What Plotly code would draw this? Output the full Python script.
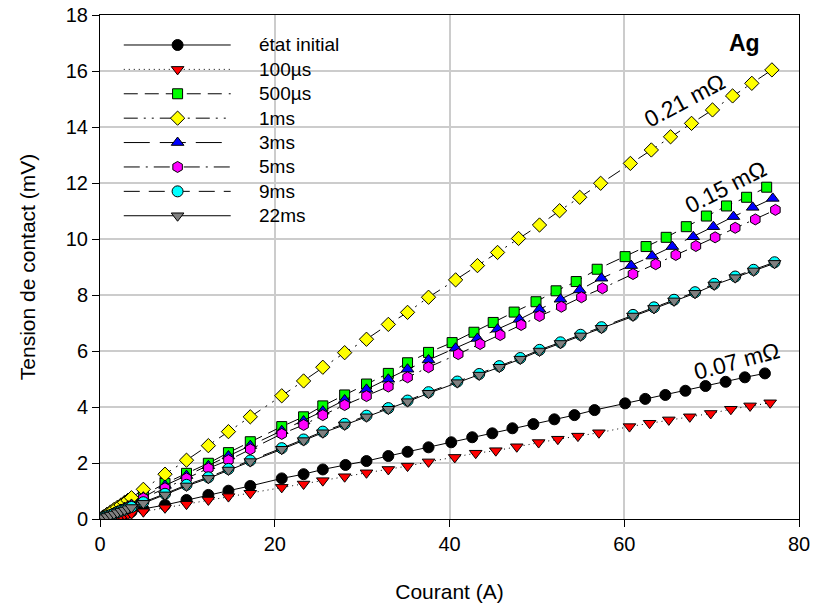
import plotly.graph_objects as go

# ---------------- data ----------------
low_I = [0, 0.4, 0.8, 1.2, 1.6, 2.0, 2.4, 2.8, 3.2, 3.6]

I_init = low_I + [4.96, 7.44, 9.9, 12.4, 14.7, 17.2, 20.8, 23.3, 25.5, 28.1,
                  30.5, 33.0, 35.2, 37.6, 40.2, 42.6, 44.9, 47.2, 49.6, 52.0,
                  54.3, 56.6, 60.1, 62.4, 64.7, 67.0, 69.3, 71.6, 73.8, 76.1]
V_init = [0, 0.03, 0.06, 0.08, 0.11, 0.14, 0.17, 0.20, 0.23, 0.26,
          0.36, 0.50, 0.68, 0.86, 1.01, 1.18, 1.45, 1.60, 1.77, 1.93,
          2.07, 2.25, 2.40, 2.56, 2.74, 2.92, 3.06, 3.24, 3.39, 3.56,
          3.71, 3.89, 4.13, 4.29, 4.43, 4.58, 4.75, 4.90, 5.06, 5.20]

I_100us = low_I + [4.96, 7.44, 9.9, 12.4, 14.7, 17.2, 20.8, 23.3, 25.5, 28.0,
                   30.5, 33.0, 35.2, 37.6, 40.6, 43.0, 45.3, 47.7, 50.2, 52.4,
                   54.7, 57.1, 60.6, 62.9, 65.1, 67.5, 69.9, 72.2, 74.4, 76.7]
V_100us = [0, 0.02, 0.04, 0.06, 0.08, 0.10, 0.12, 0.15, 0.17, 0.19,
           0.26, 0.40, 0.53, 0.68, 0.80, 0.92, 1.13, 1.25, 1.37, 1.51,
           1.65, 1.77, 1.89, 2.04, 2.20, 2.35, 2.44, 2.58, 2.73, 2.85,
           2.96, 3.08, 3.30, 3.42, 3.54, 3.65, 3.77, 3.92, 4.04, 4.15]

I_500us = low_I + [4.96, 7.44, 9.9, 12.4, 14.7, 17.2, 20.8, 23.3, 25.5, 28.0,
                   30.5, 33.0, 35.2, 37.6, 40.3, 42.8, 45.0, 47.4, 49.9, 52.2,
                   54.5, 56.9, 60.1, 62.5, 64.8, 67.1, 69.4, 71.7, 74.0, 76.3]
V_500us = [0, 0.06, 0.12, 0.18, 0.24, 0.31, 0.37, 0.43, 0.50, 0.56,
           0.85, 1.27, 1.63, 1.99, 2.37, 2.76, 3.30, 3.65, 4.04, 4.43,
           4.82, 5.20, 5.58, 5.95, 6.30, 6.67, 7.02, 7.39, 7.76, 8.15,
           8.48, 8.92, 9.37, 9.73, 10.06, 10.44, 10.82, 11.18, 11.49, 11.85]

I_1ms = low_I + [4.96, 7.44, 9.9, 12.4, 14.7, 17.2, 20.8, 23.3, 25.5, 28.0,
                 30.5, 33.0, 35.2, 37.6, 40.7, 43.2, 45.5, 47.9, 50.3, 52.6,
                 54.9, 57.3, 60.7, 63.1, 65.3, 67.7, 70.1, 72.4, 74.6, 76.9]
V_1ms = [0, 0.08, 0.17, 0.25, 0.34, 0.42, 0.50, 0.59, 0.67, 0.76,
         1.06, 1.60, 2.10, 2.62, 3.12, 3.65, 4.40, 4.93, 5.42, 5.94,
         6.42, 6.95, 7.38, 7.92, 8.54, 9.05, 9.52, 10.02, 10.50, 11.01,
         11.49, 11.99, 12.70, 13.18, 13.65, 14.13, 14.61, 15.11, 15.56, 16.04]

I_3ms = low_I + [4.96, 7.44, 9.9, 12.4, 14.7, 17.2, 20.8, 23.3, 25.5, 28.0,
                 30.5, 33.0, 35.2, 37.6, 40.7, 43.2, 45.5, 48.0, 50.3, 52.7,
                 54.9, 57.4, 60.8, 63.2, 65.5, 67.9, 70.2, 72.5, 74.7, 77.0]
V_3ms = [0, 0.05, 0.11, 0.16, 0.22, 0.28, 0.34, 0.40, 0.46, 0.52,
         0.78, 1.20, 1.55, 1.90, 2.25, 2.62, 3.15, 3.50, 3.85, 4.25,
         4.63, 4.99, 5.35, 5.68, 6.10, 6.45, 6.78, 7.13, 7.49, 7.85,
         8.18, 8.60, 9.05, 9.39, 9.73, 10.08, 10.44, 10.80, 11.13, 11.45]

I_5ms = low_I + [4.96, 7.44, 9.9, 12.4, 14.7, 17.2, 20.8, 23.3, 25.5, 28.0,
                 30.5, 33.0, 35.2, 37.6, 41.0, 43.5, 45.8, 48.2, 50.3, 52.8,
                 55.1, 57.5, 61.0, 63.6, 65.9, 68.2, 70.4, 72.7, 75.0, 77.3]
V_5ms = [0, 0.05, 0.10, 0.15, 0.20, 0.26, 0.31, 0.37, 0.43, 0.48,
         0.74, 1.10, 1.45, 1.81, 2.10, 2.49, 3.04, 3.36, 3.71, 4.07,
         4.39, 4.73, 5.06, 5.42, 5.89, 6.25, 6.57, 6.93, 7.25, 7.58,
         7.92, 8.24, 8.75, 9.10, 9.43, 9.75, 10.06, 10.40, 10.70, 11.04]

I_9ms = low_I + [4.96, 7.44, 9.9, 12.4, 14.7, 17.2, 20.8, 23.3, 25.5, 28.0,
                 30.5, 33.0, 35.2, 37.6, 40.9, 43.4, 45.7, 48.1, 50.3, 52.7,
                 55.0, 57.4, 61.0, 63.4, 65.7, 68.1, 70.3, 72.7, 74.8, 77.2]
V_9ms = [0, 0.05, 0.10, 0.14, 0.19, 0.24, 0.29, 0.33, 0.38, 0.43,
         0.60, 0.90, 1.22, 1.49, 1.79, 2.09, 2.53, 2.84, 3.12, 3.40,
         3.69, 3.96, 4.23, 4.53, 4.91, 5.18, 5.46, 5.75, 6.04, 6.31,
         6.58, 6.85, 7.29, 7.56, 7.83, 8.10, 8.40, 8.66, 8.90, 9.17]

I_22ms = low_I + [4.96, 7.44, 9.9, 12.4, 14.7, 17.2, 20.8, 23.3, 25.5, 28.0,
                  30.5, 33.0, 35.2, 37.6, 40.9, 43.4, 45.7, 48.1, 50.3, 52.7,
                  55.0, 57.4, 61.0, 63.4, 65.7, 68.1, 70.3, 72.7, 74.8, 77.2]
V_22ms = [0, 0.05, 0.09, 0.14, 0.18, 0.23, 0.28, 0.32, 0.37, 0.41,
          0.56, 0.86, 1.18, 1.45, 1.75, 2.05, 2.49, 2.80, 3.08, 3.36,
          3.65, 3.92, 4.19, 4.49, 4.87, 5.14, 5.42, 5.71, 6.00, 6.27,
          6.54, 6.81, 7.25, 7.52, 7.79, 8.06, 8.36, 8.62, 8.86, 9.13]

series_names = ["état initial", "100µs", "500µs", "1ms", "3ms", "5ms", "9ms", "22ms"]
series_I = [I_init, I_100us, I_500us, I_1ms, I_3ms, I_5ms, I_9ms, I_22ms]
series_V = [V_init, V_100us, V_500us, V_1ms, V_3ms, V_5ms, V_9ms, V_22ms]

slope_labels = ["0.21 mΩ", "0.15 mΩ", "0.07 mΩ"]
x_ticks = [0, 20, 40, 60, 80]
y_ticks = [0, 2, 4, 6, 8, 10, 12, 14, 16, 18]

# ---------------- styles ----------------
symbols = ["circle", "triangle-down", "square", "diamond", "triangle-up", "hexagon", "circle", "triangle-down"]
colors = ["#000000", "#ff0000", "#00ff00", "#ffff00", "#0000ff", "#ff00ff", "#00ffff", "#808080"]
dashes = ["solid", "1px,4px", "14px,7px", "14px,6px,2px,6px,2px,6px", "26px,10px",
          "16px,6px,2px,6px", "16px,9px", "solid"]
msize = [11, 11, 10, 11, 11, 11, 11, 11]

FONT = "Liberation Sans, Arial, sans-serif"

fig = go.Figure()
for name, I, V, sym, col, dsh, ms in zip(series_names, series_I, series_V, symbols, colors, dashes, msize):
    fig.add_trace(go.Scatter(
        x=I, y=V, mode="lines+markers", name=name, showlegend=False,
        line=dict(color="black", width=1, dash=dsh),
        marker=dict(symbol=sym, size=ms, color=col, line=dict(color="black", width=1)),
        xaxis="x", yaxis="y"))

# ---------------- hand-drawn legend on an overlay axis (paper-like 0..1) ----------------
lx0, lx1, lxm, ltx = 0.034, 0.187, 0.111, 0.224
ly0, lstep = 0.9405, 0.0484
for k, (name, sym, col, dsh, ms) in enumerate(zip(series_names, symbols, colors, dashes, msize)):
    yy = ly0 - k * lstep
    fig.add_trace(go.Scatter(x=[lx0, lx1], y=[yy, yy], mode="lines", showlegend=False,
                             line=dict(color="black", width=1, dash=dsh),
                             xaxis="x2", yaxis="y2", hoverinfo="skip"))
    fig.add_trace(go.Scatter(x=[lxm], y=[yy], mode="markers", showlegend=False,
                             marker=dict(symbol=sym, size=ms, color=col, line=dict(color="black", width=1)),
                             xaxis="x2", yaxis="y2", hoverinfo="skip"))
    fig.add_annotation(x=ltx, y=yy, xref="x2", yref="y2", text=name, showarrow=False,
                       xanchor="left", yanchor="middle", font=dict(family=FONT, size=19, color="black"))

# white box behind legend (hides gridlines)
fig.add_shape(type="rect", xref="paper", yref="paper", x0=0.012, x1=0.365, y0=0.575, y1=0.975,
              fillcolor="white", line=dict(width=0), layer="between")

# slope annotations
fig.add_annotation(x=67.0, y=14.95, text=slope_labels[0], textangle=-28, showarrow=False,
                   font=dict(family=FONT, size=23, color="black"))
fig.add_annotation(x=71.6, y=11.85, text=slope_labels[1], textangle=-27, showarrow=False,
                   font=dict(family=FONT, size=23, color="black"))
fig.add_annotation(x=72.9, y=5.65, text=slope_labels[2], textangle=-15, showarrow=False,
                   font=dict(family=FONT, size=23, color="black"))
fig.add_annotation(x=73.8, y=17.0, text="<b>Ag</b>", showarrow=False,
                   font=dict(family=FONT, size=23, color="black"))

axis_common = dict(showline=True, linecolor="black", linewidth=1, mirror=True,
                   ticks="outside", ticklen=7, tickcolor="black", tickwidth=1,
                   showgrid=True, gridcolor="#cccccc", gridwidth=2, zeroline=False,
                   automargin=False,
                   tickfont=dict(family=FONT, size=20, color="black"))

fig.update_layout(
    width=814, height=616,
    margin=dict(l=100, r=15, t=15, b=97),
    paper_bgcolor="white", plot_bgcolor="white",
    showlegend=False,
    xaxis=dict(range=[0, 80], tickvals=x_ticks,
               title=dict(text="Courant (A)", font=dict(family=FONT, size=21, color="black"), standoff=30),
               **axis_common),
    yaxis=dict(range=[0, 18], tickvals=y_ticks,
               title=dict(text="Tension de contact (mV)", font=dict(family=FONT, size=21, color="black"), standoff=24),
               **axis_common),
    xaxis2=dict(overlaying="x", range=[0, 1], visible=False, fixedrange=True),
    yaxis2=dict(overlaying="y", range=[0, 1], visible=False, fixedrange=True),
)

fig.write_html("out.html", config={"displayModeBar": False},
               post_script="document.body.style.margin='0px';")
